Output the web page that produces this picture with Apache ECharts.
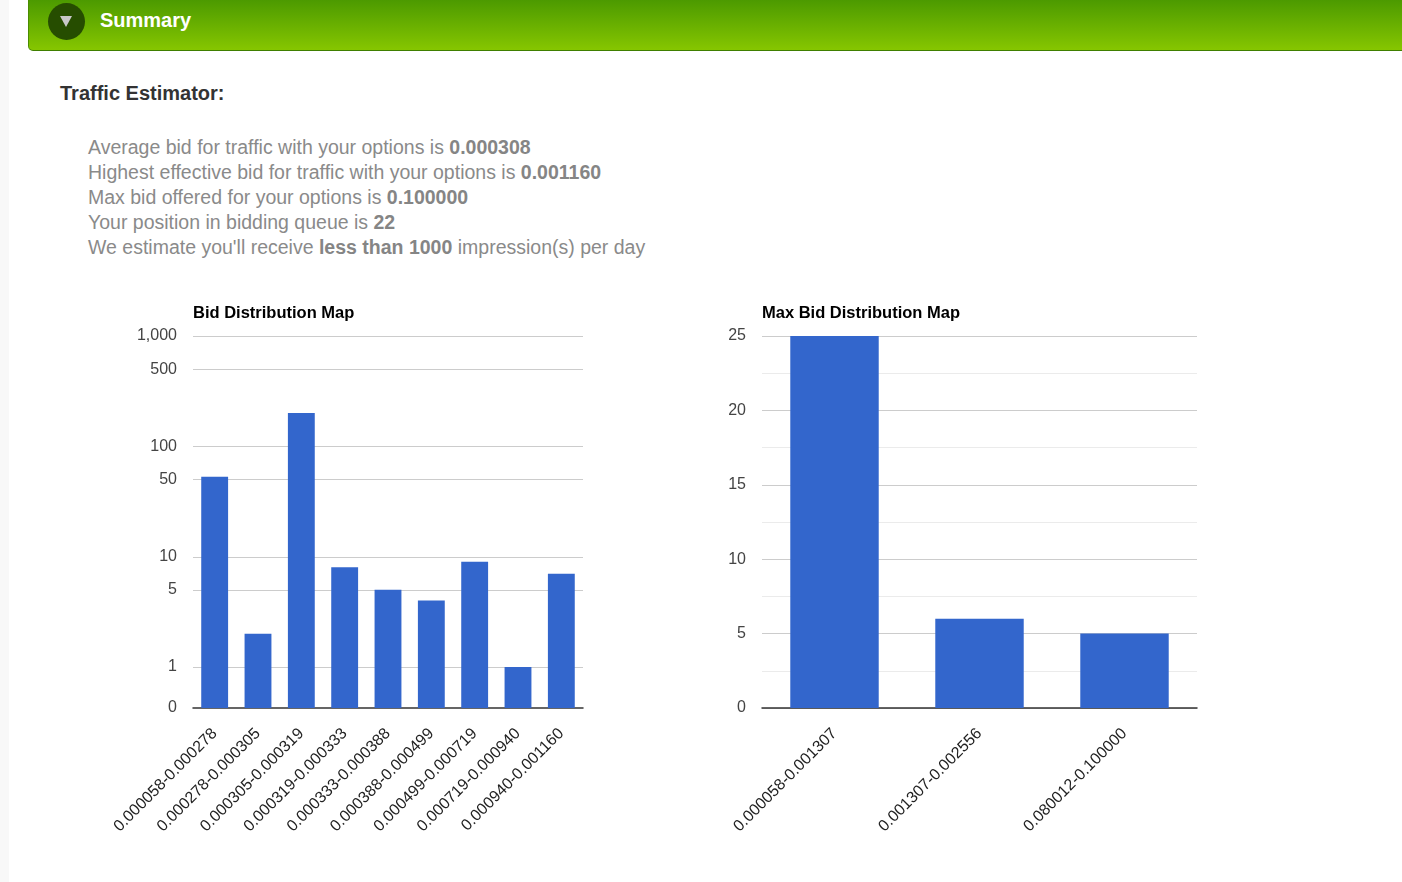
<!DOCTYPE html>
<html>
<head>
<meta charset="utf-8">
<script src="https://cdn.jsdelivr.net/npm/echarts@6/dist/echarts.min.js"></script>
<style>
  html, body { margin: 0; padding: 0; background: #fff; }
  body { width: 1402px; height: 882px; position: relative; overflow: hidden; font-family: Arial, "Liberation Sans", sans-serif; }
  .strip { position: absolute; left: 0; top: 0; width: 9px; height: 882px; background: #f8f8f8; }
  .header {
    position: absolute; left: 28px; top: 0; width: 1374px; height: 51px;
    background: linear-gradient(#4c9a00, #86c600);
    border-bottom: 1px solid #3f7f00; border-left: 1px solid #4a8c00;
    border-bottom-left-radius: 5px; box-sizing: border-box;
  }
  .knob { position: absolute; left: 19px; top: 3px; width: 37px; height: 37px; border-radius: 50%; background: #264d00; }
  .knob:after {
    content: ""; position: absolute; left: 12px; top: 13px;
    border-left: 6px solid transparent; border-right: 6px solid transparent; border-top: 11px solid #c8c8c8;
  }
  .header span { position: absolute; left: 71px; top: 9px; color: #fff; font-weight: bold; font-size: 20px; }
  h3 { position: absolute; left: 60px; top: 82px; margin: 0; font-size: 20px; color: #333; }
  .info { position: absolute; left: 88px; top: 135px; font-size: 19.5px; line-height: 25px; color: #8a8a8a; }
  .info b { color: #858585; }
  #chart { position: absolute; left: 0; top: 0; width: 1402px; height: 882px; }
</style>
</head>
<body>
<div class="strip"></div>
<div class="header"><div class="knob"></div><span>Summary</span></div>
<h3>Traffic Estimator:</h3>
<div class="info">
  Average bid for traffic with your options is <b>0.000308</b><br>
  Highest effective bid for traffic with your options is <b>0.001160</b><br>
  Max bid offered for your options is <b>0.100000</b><br>
  Your position in bidding queue is <b>22</b><br>
  We estimate you'll receive <b>less than 1000</b> impression(s) per day
</div>
<div id="chart"></div>
<script>
// left chart: bid ranges and counts (drawn on a log-like scale)
var bidRanges = ['0.000058-0.000278', '0.000278-0.000305', '0.000305-0.000319', '0.000319-0.000333',
  '0.000333-0.000388', '0.000388-0.000499', '0.000499-0.000719', '0.000719-0.000940', '0.000940-0.001160'];
var bidCounts = [53, 2, 200, 8, 5, 4, 9, 1, 7];
var bidTicks = [0, 1, 5, 10, 50, 100, 500, 1000];

// right chart
var maxBidRanges = ['0.000058-0.001307', '0.001307-0.002556', '0.080012-0.100000'];
var maxBidCounts = [25, 6, 5];
var maxBidTicks = [0, 5, 10, 15, 20, 25];

// google "mirror log" style scale: 0 stays at 0, 1 sits a bit above it
var LOG_OFFSET = 0.372;
function toLog(v) { return v <= 0 ? 0 : Math.log10(v) + LOG_OFFSET; }

var font = 'Arial, "Liberation Sans", sans-serif';
var barColor = '#3366cc';

var chart = echarts.init(document.getElementById('chart'));

var xLabel = { rotate: 45, interval: 0, margin: 23, fontSize: 16, color: '#222', fontFamily: font };
var yLabel = { margin: 16, fontSize: 16, color: '#444', fontFamily: font, padding: [4, 0, 0, 0] };

var option = {
  animation: false,
  textStyle: { fontFamily: font },
  title: [{
    text: 'Bid Distribution Map', left: 193, top: 305, padding: 0,
    textStyle: { fontSize: 16.5, fontWeight: 'bold', color: '#000', fontFamily: font }
  }, {
    text: 'Max Bid Distribution Map', left: 762, top: 305, padding: 0,
    textStyle: { fontSize: 16.5, fontWeight: 'bold', color: '#000', fontFamily: font }
  }],
  grid: [
    { left: 193, top: 336, width: 390, height: 372 },
    { left: 762, top: 336, width: 435, height: 372 }
  ],
  xAxis: [{
    type: 'category', gridIndex: 0, data: bidRanges,
    axisLine: { lineStyle: { color: '#333', width: 1.5 } },
    axisTick: { show: false },
    axisLabel: xLabel
  }, {
    type: 'category', gridIndex: 1, data: maxBidRanges,
    axisLine: { lineStyle: { color: '#333', width: 1.5 } },
    axisTick: { show: false },
    axisLabel: xLabel
  }],
  yAxis: [{
    type: 'value', gridIndex: 0, min: 0, max: toLog(1000),
    axisLine: { show: false }, axisTick: { show: false },
    splitLine: { show: false },
    axisLabel: Object.assign({}, yLabel, {
      customValues: bidTicks.map(toLog),
      formatter: function (val) {
        for (var i = 0; i < bidTicks.length; i++) {
          if (Math.abs(toLog(bidTicks[i]) - val) < 1e-6) return bidTicks[i].toLocaleString('en-US');
        }
        return '';
      }
    })
  }, {
    type: 'value', gridIndex: 1, min: maxBidTicks[0], max: maxBidTicks[maxBidTicks.length - 1], interval: 5,
    axisLine: { show: false }, axisTick: { show: false },
    splitLine: { lineStyle: { color: '#ccc' } },
    minorTick: { show: false, splitNumber: 2 },
    minorSplitLine: { show: true, lineStyle: { color: '#ebebeb' } },
    axisLabel: yLabel
  }],
  series: [{
    // carries the grid lines of the left chart so they sit under the bars
    type: 'line', xAxisIndex: 0, yAxisIndex: 0, data: [], z: 1, silent: true,
    markLine: {
      z: 1, silent: true, symbol: 'none', label: { show: false },
      lineStyle: { color: '#ccc', type: 'solid', width: 1 },
      data: bidTicks.filter(function (v) { return v > 0; }).map(function (v) { return { yAxis: toLog(v) }; })
    }
  }, {
    type: 'bar', xAxisIndex: 0, yAxisIndex: 0, z: 3, barWidth: '62%',
    itemStyle: { color: barColor },
    data: bidCounts.map(toLog)
  }, {
    type: 'bar', xAxisIndex: 1, yAxisIndex: 1, z: 3, barWidth: '61%',
    itemStyle: { color: barColor },
    data: maxBidCounts
  }]
};

chart.setOption(option);
</script>
</body>
</html>
